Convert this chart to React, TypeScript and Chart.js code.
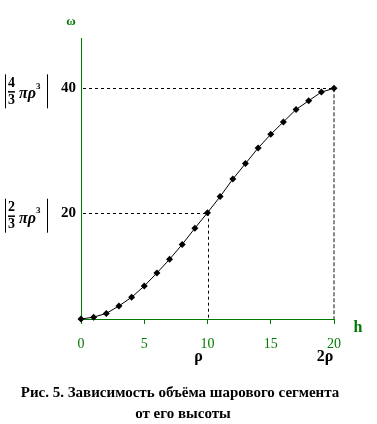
import React, { useEffect, useRef } from "react";
import { Chart, registerables } from "chart.js";

Chart.register(...registerables);

const hValues = [0, 1, 2, 3, 4, 5, 6, 7, 8, 9, 10, 11, 12, 13, 14, 15, 16, 17, 18, 19, 20];
const omegaValues = [2.9, 3.2, 3.8, 5.0, 6.4, 8.2, 10.3, 12.5, 14.9, 17.5, 20.0, 22.6, 25.4, 27.9, 30.4, 32.6, 34.6, 36.6, 38.0, 39.4, 40.0];
const xTicks = [0, 5, 10, 15, 20];
const yTicks = [20, 40];
const refPoints = [
  { h: 10, w: 20, color: "#000000", width: 1, under: "ρ", dash: [3, 3] },
  { h: 20, w: 40, color: "#8a8a8a", width: 2, under: "2ρ", dash: [4, 2] },
];
const fractionLabels = [
  { num: "4", w: 40 },
  { num: "2", w: 20 },
];
const captionLines = ["Рис. 5. Зависимость объёма шарового сегмента", "от его высоты"];

const GREEN = "#007a00";
const SERIF = "'Liberation Serif', 'Times New Roman', serif";

const overlay = {
  id: "overlay",
  beforeDatasetsDraw(chart: any) {
    const { ctx, chartArea, scales } = chart;
    const xs = scales.x;
    const ys = scales.y;
    ctx.save();
    refPoints.forEach((r) => {
      const px = xs.getPixelForValue(r.h);
      const py = ys.getPixelForValue(r.w);
      ctx.setLineDash([3, 3]);
      ctx.strokeStyle = "#000";
      ctx.lineWidth = 1;
      ctx.beginPath();
      ctx.moveTo(chartArea.left + 2, Math.round(py) + 0.5);
      ctx.lineTo(px, Math.round(py) + 0.5);
      ctx.stroke();
      ctx.setLineDash(r.dash);
      ctx.strokeStyle = r.color;
      ctx.lineWidth = r.width;
      ctx.beginPath();
      const vx = r.width === 1 ? Math.round(px) + 0.5 : Math.round(px);
      ctx.moveTo(vx, py);
      ctx.lineTo(vx, chartArea.bottom);
      ctx.stroke();
    });
    ctx.restore();
  },
  afterDraw(chart: any) {
    const { ctx, chartArea, scales } = chart;
    const xs = scales.x;
    const ys = scales.y;
    ctx.save();
    ctx.textBaseline = "middle";
    // axis names
    ctx.fillStyle = GREEN;
    ctx.font = `bold 13px ${SERIF}`;
    ctx.textAlign = "center";
    ctx.fillText("ω", chartArea.left - 10, 22);
    ctx.font = `bold 16px ${SERIF}`;
    ctx.fillText("h", chartArea.right + 24, chartArea.bottom + 9);
    // labels under x axis
    ctx.fillStyle = "#000";
    ctx.font = `bold 16px ${SERIF}`;
    refPoints.forEach((r) => {
      ctx.fillText(r.under, xs.getPixelForValue(r.h) - 9, 357);
    });
    // fraction labels
    fractionLabels.forEach((f) => {
      const cy = ys.getPixelForValue(f.w) + 3;
      ctx.strokeStyle = "#000";
      ctx.lineWidth = 1;
      ctx.beginPath();
      ctx.moveTo(5.5, cy - 17);
      ctx.lineTo(5.5, cy + 17);
      ctx.moveTo(47.5, cy - 17);
      ctx.lineTo(47.5, cy + 17);
      ctx.stroke();
      ctx.lineWidth = 1.5;
      ctx.beginPath();
      ctx.moveTo(8, cy + 0.5);
      ctx.lineTo(15, cy + 0.5);
      ctx.stroke();
      ctx.font = `bold 14px ${SERIF}`;
      ctx.textAlign = "center";
      ctx.fillText(f.num, 11.5, cy - 8);
      ctx.fillText("3", 11.5, cy + 9);
      ctx.font = `italic bold 16px ${SERIF}`;
      ctx.textAlign = "left";
      ctx.fillText("πρ", 19, cy + 3);
      ctx.font = `bold 9px ${SERIF}`;
      ctx.fillText("3", 36, cy - 5);
    });
    // caption
    ctx.textAlign = "center";
    ctx.font = `bold 15px ${SERIF}`;
    ctx.fillText(captionLines[0], 180, 393);
    ctx.fillText(captionLines[1], 183, 414);
    ctx.restore();
  },
};

export default function App() {
  const ref = useRef<HTMLCanvasElement | null>(null);
  useEffect(() => {
    if (!ref.current) return;
    const chart = new Chart(ref.current, {
      type: "line",
      data: {
        labels: hValues,
        datasets: [
          {
            data: hValues.map((h, i) => ({ x: h, y: omegaValues[i] })),
            borderColor: "#000",
            borderWidth: 1,
            backgroundColor: "#000",
            pointBackgroundColor: "#000",
            pointBorderColor: "#000",
            pointStyle: "rectRot",
            pointRadius: 3.5,
            pointBorderWidth: 0,
            tension: 0,
            clip: false as any,
          },
        ],
      },
      options: {
        animation: false,
        responsive: false,
        maintainAspectRatio: false,
        events: [],
        layout: { padding: { top: 38, right: 43, left: 0, bottom: 0 } },
        plugins: { legend: { display: false }, tooltip: { enabled: false }, title: { display: false } },
        scales: {
          x: {
            type: "linear",
            min: 0,
            max: 20,
            afterBuildTicks: (s: any) => {
              s.ticks = xTicks.map((v) => ({ value: v }));
            },
            afterFit: (s: any) => {
              s.height = 105;
            },
            grid: { display: true, drawOnChartArea: false, drawTicks: true, tickLength: 5, color: GREEN, lineWidth: 1 },
            border: { display: true, color: GREEN, width: 1 },
            ticks: { color: GREEN, font: { family: SERIF, size: 14 }, padding: 12, maxRotation: 0 },
          },
          y: {
            type: "linear",
            min: 2.9,
            max: 48.1,
            afterBuildTicks: (s: any) => {
              s.ticks = yTicks.map((v) => ({ value: v }));
            },
            afterFit: (s: any) => {
              s.width = 81;
            },
            grid: { display: false, drawTicks: false },
            border: { display: true, color: GREEN, width: 1 },
            ticks: { color: "#000", font: { family: SERIF, size: 15, weight: "bold" }, padding: 5 },
          },
        },
      },
      plugins: [overlay],
    });
    return () => chart.destroy();
  }, []);
  return (
    <div style={{ position: "fixed", left: 0, top: 0, width: 377, height: 424, background: "#fff" }}>
      <canvas ref={ref} width={377} height={424} style={{ width: 377, height: 424, display: "block" }} />
    </div>
  );
}
